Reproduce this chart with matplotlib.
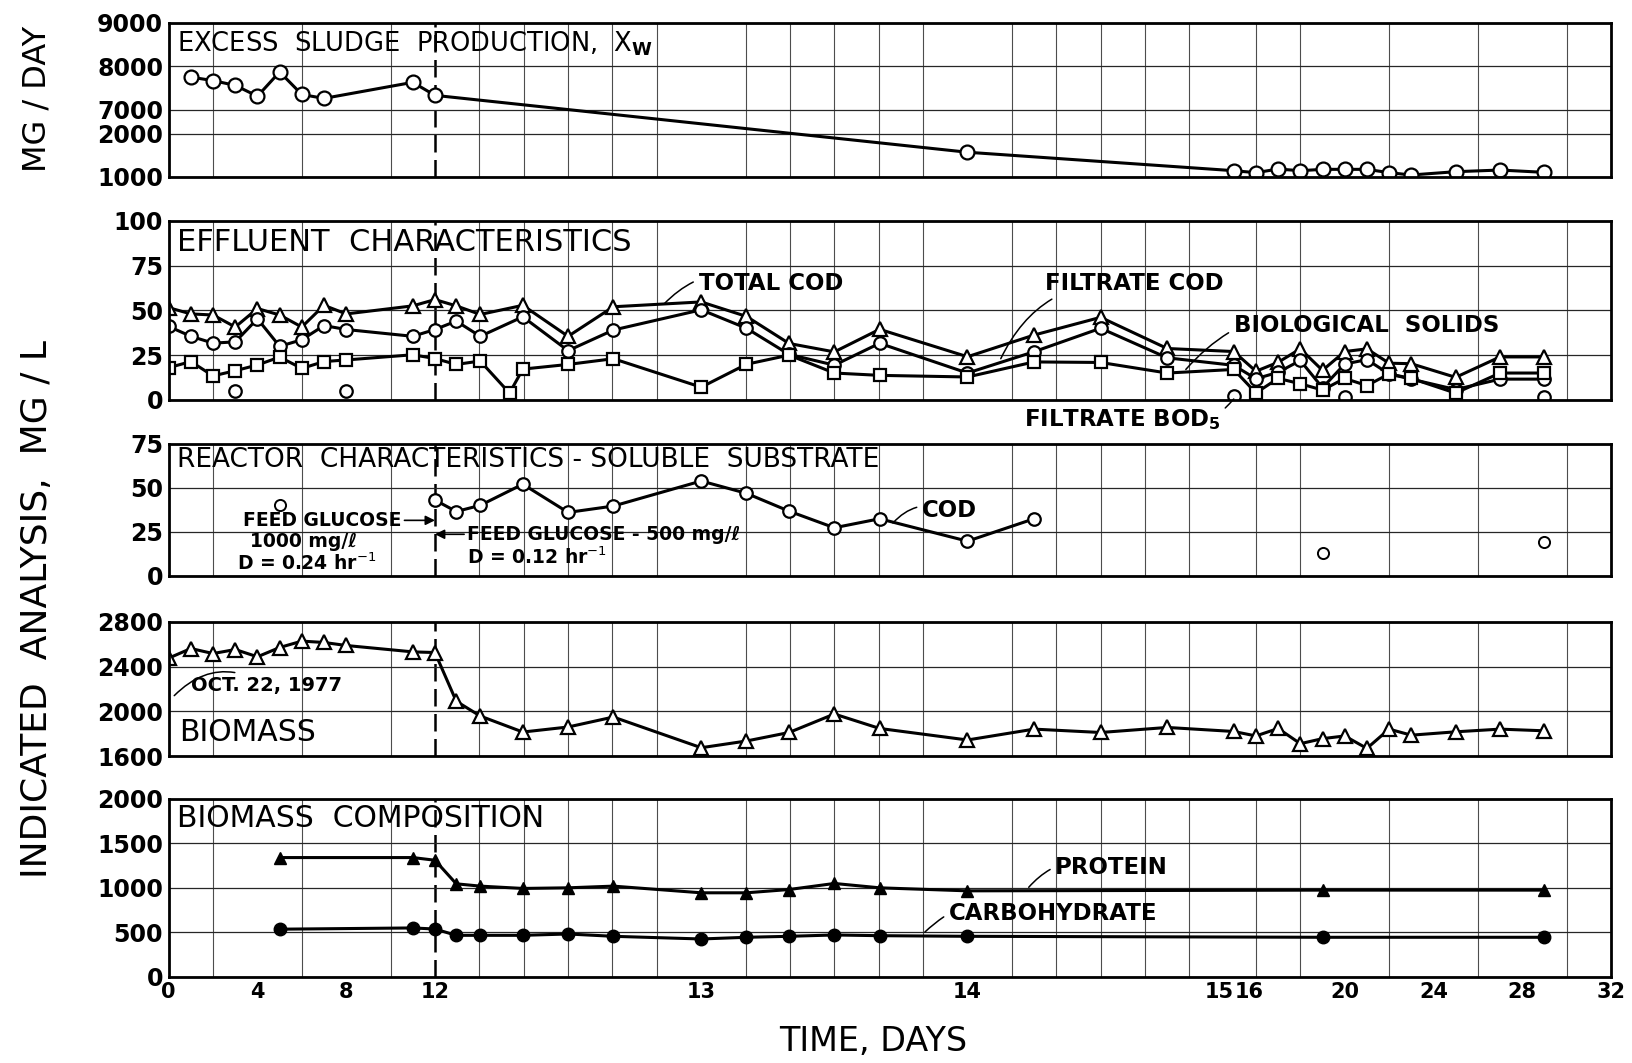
"""
Sludge reactor run: excess sludge, effluent, reactor substrate and biomass panels
on a shared time axis that is stretched between days 12 and 15.
"""
import matplotlib

matplotlib.use("Agg")
import matplotlib.pyplot as plt  # noqa: E402
import numpy as np  # noqa: E402
from matplotlib.ticker import FixedLocator  # noqa: E402

plt.rcParams["font.family"] = "DejaVu Sans"
plt.rcParams["mathtext.fontset"] = "dejavusans"

# time axis: days 12-15 take 12x the room of the other days
DAY_KNOTS = [0, 12, 15, 32]
POS_KNOTS = [0, 12, 48, 65]
# excess sludge axis is broken between 2000 and 7000 mg/day
XW_KNOTS = [1000, 2000, 7000, 8000, 9000]
XW_POS = [0, 1, 1.55, 2.55, 3.55]

# "15" and "16" sit either side of the day-15 rule, as in the original
X_TICKS = [0, 4, 8, 12, 13, 14, 15, 15.05, 20, 24, 28, 32]
X_TICK_LABELS = ["0", "4", "8", "12", "13", "14", "15", "16", "20", "24", "28", "32"]

# --- excess sludge production, mg/day
DAYS_XW = [1, 2, 3, 4, 5, 6, 7, 11, 12, 14, 15, 16, 17, 18, 19, 20, 21, 22, 23, 25, 27, 29]
XW = [7750, 7670, 7560, 7310, 7870, 7350, 7260, 7630, 7330, 1570,
      1145, 1100, 1183, 1145, 1176, 1176, 1176, 1100, 1046, 1122, 1160, 1107]

# --- effluent characteristics, mg/l
DAYS_EFF = [0, 1, 2, 3, 4, 5, 6, 7, 8, 11, 12,
            12.08, 12.17, 12.33, 12.5, 12.67, 13, 13.17, 13.33, 13.5, 13.67,
            14, 14.25, 14.5, 14.75, 15, 16, 17, 18, 19, 20, 21, 22, 23, 25, 27, 29]
TOTAL_COD = [51.5, 48, 47.4, 40.7, 51, 47.4, 40.7, 52.8, 48, 52.5, 56,
             52.5, 47.7, 52.8, 35.5, 52, 54.7, 46.6, 31.5, 26.8, 39.4,
             24.1, 36.2, 46.1, 28.7, 27, 16, 21, 28.5, 16.5, 27, 28.5, 20.5, 20.2, 12.6, 24, 24]
FILTRATE_COD = [41, 35.5, 31.7, 32.4, 45.3, 29.9, 33.6, 41.5, 39.3, 35.5, 39.3,
                44, 35.5, 46.4, 27.5, 39, 50.3, 40, 25.4, 19.4, 31.6,
                15, 26.9, 40, 23.5, 19.3, 11.8, 15.4, 22, 6.8, 20, 22.5, 14.5, 11.6, 5.8, 11.6, 11.6]
DAYS_SOLIDS = [0, 1, 2, 3, 4, 5, 6, 7, 8, 11, 12,
               12.08, 12.17, 12.28, 12.33, 12.5, 12.67, 13, 13.17, 13.33, 13.5, 13.67,
               14, 14.25, 14.5, 14.75, 15, 16, 17, 18, 19, 20, 21, 22, 23, 25, 27, 29]
BIO_SOLIDS = [18, 21.4, 13.4, 16.3, 19.5, 23.9, 17.6, 21.4, 22.3, 25.2, 23.1,
              19.8, 21.7, 3.8, 17.2, 19.8, 23, 7.1, 19.9, 25, 15, 13.7,
              12.8, 21.2, 20.9, 15, 17, 3.9, 12, 9, 5.5, 12, 8, 14.5, 12, 3.8, 15, 15]
DAYS_BOD = [3, 8, 15, 20, 29]
FILTRATE_BOD = [5, 5, 2, 1.5, 1.5]

# --- reactor soluble substrate COD, mg/l
DAYS_REACTOR = [12, 12.08, 12.17, 12.33, 12.5, 12.67, 13, 13.17, 13.33, 13.5, 13.67, 14, 14.25]
REACTOR_COD = [43, 36.5, 40, 52, 36, 39.6, 53.8, 46.8, 36.7, 27.3, 32.4, 19.7, 32.4]
DAYS_REACTOR_LOOSE = [5, 19, 29]
REACTOR_COD_LOOSE = [40.4, 13, 19]

# --- biomass, mg/l
BIOMASS = [2475, 2561, 2516, 2552, 2487, 2570, 2627, 2615, 2588, 2531, 2525,
           2090, 1958, 1815, 1860, 1949, 1675, 1735, 1811, 1976, 1847,
           1744, 1841, 1811, 1856, 1820, 1780, 1847, 1711, 1756, 1780, 1669, 1841, 1787, 1817, 1841, 1826]

# --- biomass composition, mg/l
DAYS_COMP = [5, 11, 12, 12.08, 12.17, 12.33, 12.5, 12.67, 13, 13.17, 13.33, 13.5, 13.67, 14, 19, 29]
PROTEIN = [1340, 1340, 1310, 1045, 1019, 993, 1000, 1019, 944, 944, 981, 1049, 1000, 966, 974, 974]
CARBOHYDRATE = [535, 549, 537, 466, 466, 466, 481, 455, 425, 444, 455, 470, 462, 455, 444, 444]


def _piecewise(xs, ys):
    xs = np.asarray(xs, float)
    ys = np.asarray(ys, float)
    s0 = (ys[1] - ys[0]) / (xs[1] - xs[0])
    s1 = (ys[-1] - ys[-2]) / (xs[-1] - xs[-2])

    def f(v):
        v = np.asarray(v, float)
        out = np.interp(v, xs, ys)
        out = np.where(v < xs[0], ys[0] + (v - xs[0]) * s0, out)
        return np.where(v > xs[-1], ys[-1] + (v - xs[-1]) * s1, out)

    return f


day_fwd, day_inv = _piecewise(DAY_KNOTS, POS_KNOTS), _piecewise(POS_KNOTS, DAY_KNOTS)
xw_fwd, xw_inv = _piecewise(XW_KNOTS, XW_POS), _piecewise(XW_POS, XW_KNOTS)

# vertical rules: every 2 days, every 4 hours in the stretched part
GRID_DAYS = np.r_[np.arange(2, 12, 2), 12 + np.arange(1, 19) / 6, np.arange(16, 31, 2)]

OPEN = dict(mfc="white", mec="k", mew=1.6, color="k", lw=2.2)
SHUT = dict(mfc="k", mec="k", color="k", lw=2.2)
ANN = dict(fontsize=16.5, fontweight="bold", ha="left", va="center")


def _leader(rad=0.35):
    return dict(arrowstyle="-", lw=1.1, color="k", connectionstyle=f"arc3,rad={rad}",
                shrinkA=2, shrinkB=0)


def _frame(ax, yticks, labels, bottom=False):
    ax.set_xscale("function", functions=(day_fwd, day_inv))
    ax.set_xlim(0, 32)
    ax.set_ylim(yticks[0], yticks[-1])
    ax.set_yticks(yticks)
    ax.set_yticklabels(labels, fontsize=17, fontweight="bold")
    ax.set_xticks(X_TICKS)
    ax.xaxis.set_minor_locator(FixedLocator(GRID_DAYS))
    ax.grid(True, which="minor", axis="x", color="0.3", lw=0.8)
    ax.grid(True, which="major", axis="y", color="0.15", lw=0.9)
    ax.tick_params(which="both", length=0, pad=4)
    ax.axvline(12, color="k", lw=1.8, ls=(0, (7, 3)), zorder=1.5)
    for s in ax.spines.values():
        s.set_linewidth(2)
    if bottom:
        ax.set_xticklabels(X_TICK_LABELS, fontsize=15, fontweight="bold")
        lbls = ax.get_xticklabels()
        lbls[6].set_ha("right")
        lbls[7].set_ha("left")
    else:
        ax.tick_params(labelbottom=False)


fig = plt.figure(figsize=(16.33, 10.63), dpi=100)
L, W = 0.1033, 0.8832
rects = [(0.8335, 0.145), (0.6238, 0.1685), (0.4582, 0.1245), (0.2887, 0.1264), (0.0811, 0.1674)]
ax1, ax2, ax3, ax4, ax5 = [fig.add_axes((L, b, W, h)) for b, h in rects]

# panel 1: excess sludge
ax1.set_yscale("function", functions=(xw_fwd, xw_inv))
_frame(ax1, [1000, 2000, 7000, 8000, 9000], ["1000", "2000", "7000", "8000", "9000"])
ax1.plot(DAYS_XW, XW, marker="o", ms=10, **OPEN)
ax1.text(0.006, 0.865, "EXCESS  SLUDGE  PRODUCTION,  X$_\\mathbf{W}$", transform=ax1.transAxes,
         fontsize=18.5, va="center")

# panel 2: effluent
_frame(ax2, [0, 25, 50, 75, 100], ["0", "25", "50", "75", "100"])
ax2.plot(DAYS_EFF, TOTAL_COD, marker="^", ms=10, **OPEN)
ax2.plot(DAYS_EFF, FILTRATE_COD, marker="o", ms=9, **OPEN)
ax2.plot(DAYS_SOLIDS, BIO_SOLIDS, marker="s", ms=8, **OPEN)
ax2.plot(DAYS_BOD, FILTRATE_BOD, marker="o", ms=9, ls="none", mfc="white", mec="k", mew=1.6)
ax2.text(0.006, 0.878, "EFFLUENT  CHARACTERISTICS", transform=ax2.transAxes, fontsize=22, va="center")
ax2.annotate("TOTAL COD", xy=(12.86, 53.5), xytext=(12.99, 65), arrowprops=_leader(), **ANN)
ax2.annotate("FILTRATE COD", xy=(14.125, 23), xytext=(14.29, 65), arrowprops=_leader(), **ANN)
ax2.annotate("BIOLOGICAL  SOLIDS", xy=(14.82, 17), xytext=(15.0, 41.3), arrowprops=_leader(), **ANN)
ax2.annotate("FILTRATE BOD$_\\mathbf{5}$", xy=(15, 0.5), xytext=(14.95, -11), arrowprops=_leader(0.4),
             annotation_clip=False, **{**ANN, "ha": "right"})

# panel 3: reactor soluble substrate
_frame(ax3, [0, 25, 50, 75], ["0", "25", "50", "75"])
ax3.plot(DAYS_REACTOR, REACTOR_COD, marker="o", ms=9, **OPEN)
ax3.plot(DAYS_REACTOR_LOOSE, REACTOR_COD_LOOSE, marker="o", ms=8, ls="none",
         mfc="white", mec="k", mew=1.4)
ax3.text(0.006, 0.874, "REACTOR  CHARACTERISTICS - SOLUBLE  SUBSTRATE", transform=ax3.transAxes,
         fontsize=19, va="center")
ax3.annotate("COD", xy=(13.72, 30), xytext=(13.83, 37.2), arrowprops=_leader(), **ANN)
feed = dict(fontsize=13.5, fontweight="bold", va="center")
arrow = dict(arrowstyle="-|>", lw=1.2, color="k", shrinkA=0, shrinkB=0, mutation_scale=14)
ax3.annotate("FEED GLUCOSE", xy=(12, 31.5), xytext=(10.5, 31.5), ha="right", arrowprops=arrow, **feed)
ax3.text(6.1, 19.5, "1000 mg/ℓ", ha="center", **feed)
ax3.text(6.2, 7.0, "D = 0.24 hr$^{-1}$", ha="center", **feed)
ax3.annotate("FEED GLUCOSE - 500 mg/ℓ", xy=(12, 23.6), xytext=(12.12, 23.6), ha="left",
             arrowprops=arrow, **feed)
ax3.text(12.12, 10.6, "D = 0.12 hr$^{-1}$", ha="left", **feed)

# panel 4: biomass
_frame(ax4, [1600, 2000, 2400, 2800], ["1600", "2000", "2400", "2800"])
ax4.plot(DAYS_EFF, BIOMASS, marker="^", ms=10, **OPEN)
ax4.text(0.007, 0.178, "BIOMASS", transform=ax4.transAxes, fontsize=21.5, va="center")
ax4.annotate("OCT. 22, 1977", xy=(0.25, 2140), xytext=(1.0, 2232), arrowprops=_leader(0.4),
             **{**ANN, "fontsize": 14})

# panel 5: biomass composition
_frame(ax5, [0, 500, 1000, 1500, 2000], ["0", "500", "1000", "1500", "2000"], bottom=True)
ax5.plot(DAYS_COMP, PROTEIN, marker="^", ms=9, **SHUT)
ax5.plot(DAYS_COMP, CARBOHYDRATE, marker="o", ms=9, **SHUT)
ax5.text(0.006, 0.889, "BIOMASS  COMPOSITION", transform=ax5.transAxes, fontsize=21.5, va="center")
ax5.annotate("PROTEIN", xy=(14.23, 1006), xytext=(14.33, 1228), arrowprops=_leader(), **ANN)
ax5.annotate("CARBOHYDRATE", xy=(13.84, 503), xytext=(13.93, 714), arrowprops=_leader(), **ANN)

fig.text(0.0227, 0.907, "MG / DAY", rotation=90, ha="center", va="center", fontsize=23)
fig.text(0.0227, 0.427, "INDICATED  ANALYSIS,  MG / L", rotation=90, ha="center", va="center",
         fontsize=26)
fig.text(0.5345, 0.0205, "TIME, DAYS", ha="center", va="center", fontsize=24)

fig.savefig("out.png", dpi=100)
